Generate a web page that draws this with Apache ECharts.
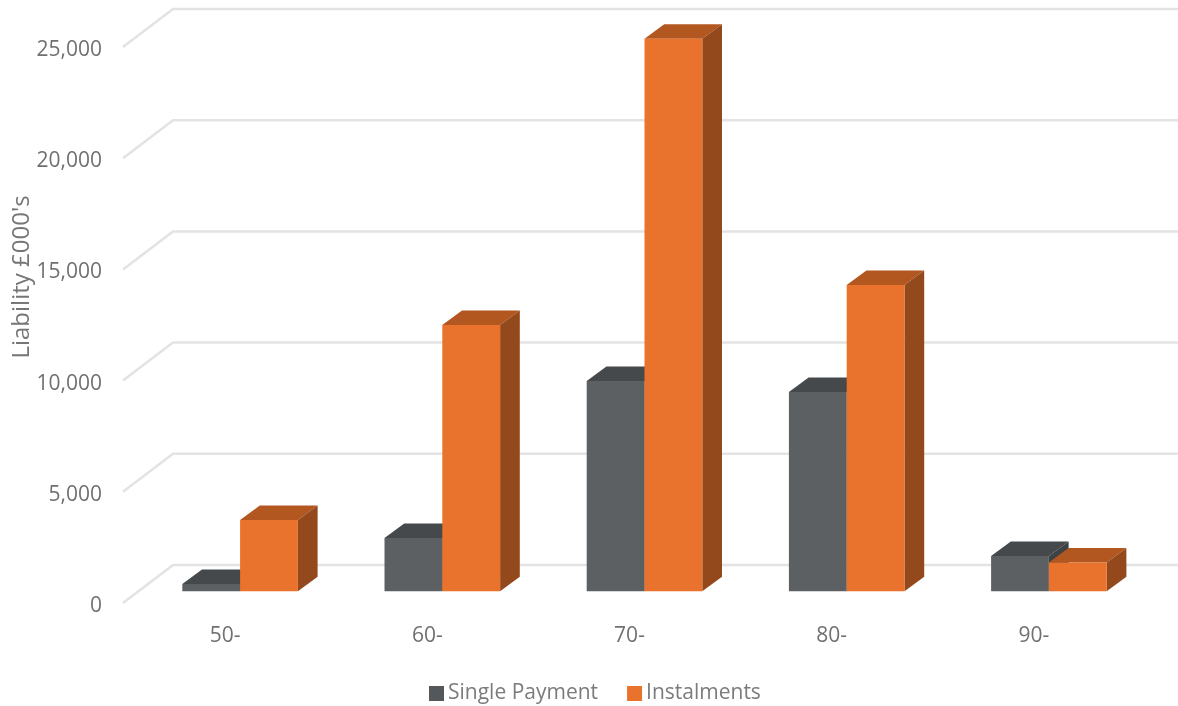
<!DOCTYPE html>
<html><head><meta charset="utf-8">
<style>html,body{margin:0;padding:0;background:#fff}#c{width:1178px;height:706px}</style>
<script src="https://cdn.jsdelivr.net/npm/echarts@6/dist/echarts.min.js"></script>
</head><body><div id="c"></div>
<script>
const categories = ['50-','60-','70-','80-','90-'];
const singlePayment = [330, 2400, 9460, 8960, 1590];
const instalments = [3210, 11970, 24850, 13770, 1300];
const tickValues = [0,5000,10000,15000,20000,25000];

const FONT = '"Open Sans"';
const DEPTH_X = 19.7, DEPTH_Y = 14.5, BAR_W = 57.8, BAR_SHIFT = 15, BASE_LIFT = 11.7;
const WALL_X = 50, WALL_Y = 38;
const GREY = {front:'#5d6063', top:'#46494b', side:'#3f4244'};
const ORANGE = {front:'#e9722c', top:'#b25720', side:'#94491c'};

function barRenderer(colors, side){
  return function(params, api){
    const p = api.coord([api.value(0), api.value(1)]);
    const zero = api.coord([api.value(0), 0]);
    const x0 = p[0] + BAR_SHIFT + (side < 0 ? -BAR_W : 0), x1 = x0 + BAR_W;
    const yt = p[1] - BASE_LIFT, yb = zero[1] - BASE_LIFT;
    return {type:'group', children:[
      {type:'polygon', shape:{points:[[x0,yt],[x1,yt],[x1+DEPTH_X,yt-DEPTH_Y],[x0+DEPTH_X,yt-DEPTH_Y]]}, style:{fill:colors.top}},
      {type:'polygon', shape:{points:[[x1,yt],[x1+DEPTH_X,yt-DEPTH_Y],[x1+DEPTH_X,yb-DEPTH_Y],[x1,yb]]}, style:{fill:colors.side}},
      {type:'rect', shape:{x:x0,y:yt,width:BAR_W,height:yb-yt}, style:{fill:colors.front}}
    ]};
  };
}
function wallRenderer(params, api){
  const p = api.coord([0, api.value(0)]);
  const left = params.coordSys.x - 1;
  const y = p[1] - WALL_Y;
  return {type:'polyline', shape:{points:[[left,p[1]],[left+WALL_X,y],[1178,y]]},
    style:{fill:null, stroke:'#e3e3e3', lineWidth:2.5}};
}
const chart = echarts.init(document.getElementById('c'), null, {renderer:'canvas'});
chart.setOption({
  animation:false,
  backgroundColor:'#fff',
  textStyle:{fontFamily:FONT},
  grid:{left:124, width:1011, top:47, height:556, outerBoundsMode:'none', containLabel:false},
  legend:{
    top:678, left:424, itemWidth:15, itemHeight:15, itemGap:29, itemStyle:{borderWidth:0},
    icon:'rect', textStyle:{fontFamily:FONT, fontSize:21, color:'#7b7b7b', padding:[0,0,0,-1]},
    data:['Single Payment','Instalments']
  },
  xAxis:{type:'category', data:categories, axisLine:{show:false}, axisTick:{show:false},
    axisLabel:{fontFamily:FONT, fontSize:21, color:'#707070', margin:23}, splitLine:{show:false}},
  yAxis:{type:'value', min:0, max:25000, interval:5000,
    name:"Liability £000's", nameLocation:'middle', nameGap:90, nameRotate:90, nameMoveOverlap:false,
    nameTextStyle:{fontFamily:FONT, fontSize:24, color:'#757575', padding:[0,0,0,96]},
    axisLine:{show:false}, axisTick:{show:false}, splitLine:{show:false},
    axisLabel:{fontFamily:FONT, fontSize:21, color:'#707070', margin:22, verticalAlign:'middle',
      rich:{t:{fontFamily:FONT, fontSize:21, color:'#707070', padding:[6,0,0,0]}},
      formatter:v=>'{t|'+v.toLocaleString('en-GB')+'}'}},
  series:[
    {type:'custom', name:'wall', silent:true, z:1, renderItem:wallRenderer, data:tickValues.map(v=>[v]), encode:{y:0}, tooltip:{show:false}},
    {type:'custom', name:'Single Payment', z:2, itemStyle:{color:'#54585b'}, renderItem:barRenderer(GREY,-1),
      data:categories.map((c,i)=>[i,singlePayment[i]]), encode:{x:0,y:1}},
    {type:'custom', name:'Instalments', z:3, itemStyle:{color:'#e9722c'}, renderItem:barRenderer(ORANGE,1),
      data:categories.map((c,i)=>[i,instalments[i]]), encode:{x:0,y:1}}
  ]
});
</script></body></html>
